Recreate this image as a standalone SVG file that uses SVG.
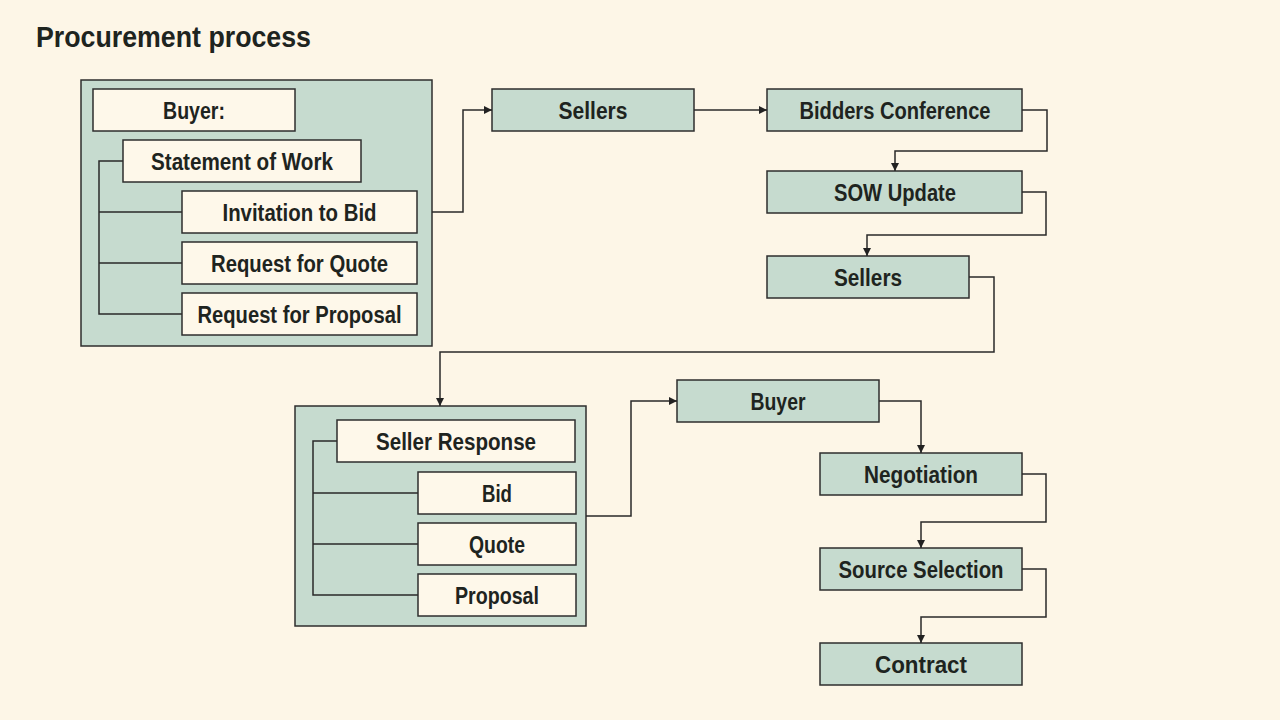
<svg xmlns="http://www.w3.org/2000/svg" width="1280" height="720" viewBox="0 0 1280 720">
<defs>
<marker id="ah" viewBox="0 0 10 10" refX="10" refY="5" markerWidth="8" markerHeight="8" markerUnits="userSpaceOnUse" orient="auto">
<path d="M0,0 L10,5 L0,10 z" fill="#222"/>
</marker>
<style>
.bg{fill:#fdf6e7}
.grp{fill:#c6dbcf;stroke:#2e2e2e;stroke-width:1.5}
.g{fill:#c6dbcf;stroke:#2e2e2e;stroke-width:1.5}
.w{fill:#fef8ea;stroke:#2e2e2e;stroke-width:1.5}
.t{font-family:"Liberation Sans",Arial,sans-serif;font-weight:bold;font-size:23px;fill:#1e2420;text-anchor:middle}
.title{font-family:"Liberation Sans",Arial,sans-serif;font-weight:bold;font-size:30px;fill:#1e2420}
.c{fill:none;stroke:#2a2a2a;stroke-width:1.5}
.a{fill:none;stroke:#2a2a2a;stroke-width:1.5;marker-end:url(#ah)}
</style>
</defs>
<rect class="bg" x="0" y="0" width="1280" height="720"/>
<text class="title" x="36" y="47" textLength="275" lengthAdjust="spacingAndGlyphs">Procurement process</text>

<g id="buyer-group">
<rect class="grp" x="81" y="80" width="351" height="266"/>
<g id="tree1">
<path class="c" d="M123,161 H99 V314 H182 M99,212 H182 M99,263 H182"/>
</g>
<g id="buyer-label"><rect class="w" x="93" y="89" width="202" height="42"/><text class="t" x="194" y="118.5" textLength="62" lengthAdjust="spacingAndGlyphs">Buyer:</text></g>
<g id="sow"><rect class="w" x="123" y="140" width="238" height="42"/><text class="t" x="242" y="169.5" textLength="182" lengthAdjust="spacingAndGlyphs">Statement of Work</text></g>
<g id="itb"><rect class="w" x="182" y="191" width="235" height="42"/><text class="t" x="299.5" y="220.5" textLength="154" lengthAdjust="spacingAndGlyphs">Invitation to Bid</text></g>
<g id="rfq"><rect class="w" x="182" y="242" width="235" height="42"/><text class="t" x="299.5" y="271.5" textLength="177" lengthAdjust="spacingAndGlyphs">Request for Quote</text></g>
<g id="rfp"><rect class="w" x="182" y="293" width="235" height="42"/><text class="t" x="299.5" y="322.5" textLength="204" lengthAdjust="spacingAndGlyphs">Request for Proposal</text></g>
</g>

<g id="sellers1"><rect class="g" x="492" y="89" width="202" height="42"/><text class="t" x="593" y="118.5" textLength="69" lengthAdjust="spacingAndGlyphs">Sellers</text></g>
<g id="bidders"><rect class="g" x="767" y="89" width="255" height="42"/><text class="t" x="895" y="118.5" textLength="191" lengthAdjust="spacingAndGlyphs">Bidders Conference</text></g>
<g id="sow-update"><rect class="g" x="767" y="171" width="255" height="42"/><text class="t" x="895" y="200.5" textLength="122" lengthAdjust="spacingAndGlyphs">SOW Update</text></g>
<g id="sellers2"><rect class="g" x="767" y="256" width="202" height="42"/><text class="t" x="868" y="285.5" textLength="68" lengthAdjust="spacingAndGlyphs">Sellers</text></g>

<g id="seller-group">
<rect class="grp" x="295" y="406" width="291" height="220"/>
<g id="tree2">
<path class="c" d="M337,441 H313 V595 H418 M313,493 H418 M313,544 H418"/>
</g>
<g id="seller-response"><rect class="w" x="337" y="420" width="238" height="42"/><text class="t" x="456" y="449.5" textLength="160" lengthAdjust="spacingAndGlyphs">Seller Response</text></g>
<g id="bid"><rect class="w" x="418" y="472" width="158" height="42"/><text class="t" x="497" y="501.5" textLength="30" lengthAdjust="spacingAndGlyphs">Bid</text></g>
<g id="quote"><rect class="w" x="418" y="523" width="158" height="42"/><text class="t" x="497" y="552.5" textLength="56" lengthAdjust="spacingAndGlyphs">Quote</text></g>
<g id="proposal"><rect class="w" x="418" y="574" width="158" height="42"/><text class="t" x="497" y="603.5" textLength="84" lengthAdjust="spacingAndGlyphs">Proposal</text></g>
</g>

<g id="buyer2"><rect class="g" x="677" y="380" width="202" height="42"/><text class="t" x="778" y="409.5" textLength="55" lengthAdjust="spacingAndGlyphs">Buyer</text></g>
<g id="negotiation"><rect class="g" x="820" y="453" width="202" height="42"/><text class="t" x="921" y="482.5" textLength="114" lengthAdjust="spacingAndGlyphs">Negotiation</text></g>
<g id="source-selection"><rect class="g" x="820" y="548" width="202" height="42"/><text class="t" x="921" y="577.5" textLength="165" lengthAdjust="spacingAndGlyphs">Source Selection</text></g>
<g id="contract"><rect class="g" x="820" y="643" width="202" height="42"/><text class="t" x="921" y="672.5" textLength="92" lengthAdjust="spacingAndGlyphs">Contract</text></g>

<g id="connectors">
<path class="a" d="M432,212 H463 V110 H492"/>
<path class="a" d="M694,110 H767"/>
<path class="a" d="M1022,110 H1047 V151 H895 V171"/>
<path class="a" d="M1022,192 H1046 V235 H867 V256"/>
<path class="a" d="M969,277 H994 V352 H440 V406"/>
<path class="a" d="M586,516 H631 V401 H677"/>
<path class="a" d="M879,401 H921 V453"/>
<path class="a" d="M1022,474 H1046 V522 H921 V548"/>
<path class="a" d="M1022,569 H1046 V617 H921 V643"/>
</g>
</svg>
